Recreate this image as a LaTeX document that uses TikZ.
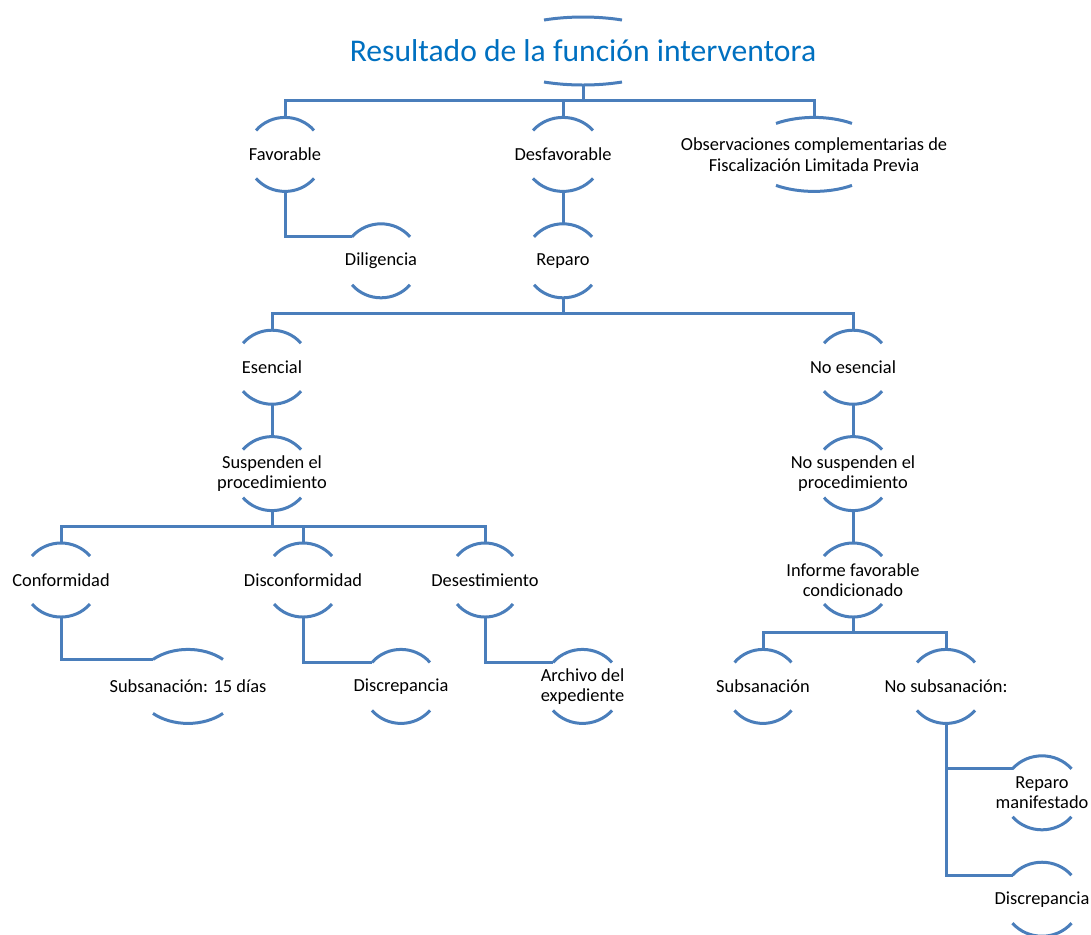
\documentclass[tikz,border=0pt]{standalone}
\usepackage{fontspec}
\setmainfont{Carlito}
\usepackage{tikz}
\usetikzlibrary{positioning}
\usepackage{xcolor}
\definecolor{linkblue}{HTML}{4A7EBB}
\definecolor{titleblue}{HTML}{0070C0}

\begin{document}
\begin{tikzpicture}[
        x=0.5pt, y=-0.5pt,
        node distance=16.2pt,
        item/.style={
            rectangle,
            inner sep=0pt,
            outer sep=0pt,
            minimum height=37pt,
            align=center,
            font=\fontsize{9.2}{10.3}\selectfont
        },
        heading/.style={
            rectangle,
            inner sep=0pt,
            outer sep=0pt,
            minimum height=34pt,
            text=titleblue,
            font=\fontsize{15.8}{18}\selectfont
        },
        branch/.style={
            draw=linkblue,
            line width=1.5pt
        }
    ]

        \useasboundingbox (0,0) rectangle (1091,934);

        \node[heading] (res) at (583,51) {Resultado de la función interventora};

        \node[item, below=of res, xshift=-149pt] (fav) {Favorable};
        \node[item, below=of res, xshift=-10pt] (desf) {Desfavorable};
        \node[item, below=of res, xshift=115.5pt] (obs) {Observaciones complementarias de\\Fiscalización Limitada Previa};
        \node[item, below=of fav, xshift=48pt] (dil) {Diligencia};
        \node[item, below=of desf] (rep) {Reparo};
        \node[item, below=of rep, xshift=-145.5pt] (ese) {Esencial};
        \node[item, below=of rep, xshift=145pt] (noese) {No esencial};
        \node[item, below=of ese] (susp) {Suspenden el\\procedimiento};
        \node[item, below=of noese] (nosusp) {No suspenden el\\procedimiento};
        \node[item, below=of nosusp] (inf) {Informe favorable\\condicionado};
        \node[item, below=of susp, xshift=-105.5pt] (conf) {Conformidad};
        \node[item, below=of susp, xshift=15.5pt] (disc) {Disconformidad};
        \node[item, below=of susp, xshift=106.5pt] (dest) {Desestimiento};
        \node[item, below=of conf, xshift=63.5pt] (sub15) {Subsanación: 15 días};
        \node[item, below=of disc, xshift=49pt] (discr) {Discrepancia};
        \node[item, below=of dest, xshift=48.75pt] (arch) {Archivo del\\expediente};
        \node[item, below=of inf, xshift=-45pt] (subs) {Subsanación};
        \node[item, below=of inf, xshift=46.5pt] (nosub) {No subsanación:};
        \node[item, below=of nosub, xshift=48pt] (repman) {Reparo\\manifestado};
        \node[item, below=of repman] (discr2) {Discrepancia};

        % arcs above and below each text (half width, apex, end height)
        \foreach \n/\w/\a/\e in {res/39/34/31, fav/29/37/24, desf/30/37/24, obs/38/37/31,
                dil/29/37/24, rep/29/37/24, ese/29/37/24, noese/29/37/24, susp/29/37/24,
                nosusp/29/37/24, inf/29/37/24, conf/29/37/24, disc/29/37/24, dest/28/37/24,
                sub15/35/37/27, discr/29/37/24, arch/29.5/37/24, subs/28.5/37/24,
                nosub/29/37/24, repman/29.5/37/24, discr2/29.5/37/24}{
            \pgfmathsetmacro{\t}{asin(\e/\a)}
            \pgfmathsetmacro{\k}{4/3*tan((180-2*\t)/4)}
            \pgfmathsetmacro{\dx}{\k*\w*tan(\t)}
            \pgfmathsetmacro{\dy}{\k*\a*cos(\t)}
            \draw[branch] ([shift={(-\w,-\e)}]\n.center) coordinate (\n-tl)
                .. controls ([shift={({-\w+\dx},{-\e-\dy})}]\n.center)
                and ([shift={({\w-\dx},{-\e-\dy})}]\n.center) .. ([shift={(\w,-\e)}]\n.center);
            \draw[branch] ([shift={(-\w,\e)}]\n.center)
                .. controls ([shift={({-\w+\dx},{\e+\dy})}]\n.center)
                and ([shift={({\w-\dx},{\e+\dy})}]\n.center) .. ([shift={(\w,\e)}]\n.center);
        }

        \draw[branch] (res.south) -- ++(0,15) coordinate (topbar);
        \draw[branch] (fav.north) |- (topbar) -| (obs.north);
        \draw[branch] (desf.north) -- (desf.north |- topbar);
        \draw[branch] (fav.south) |- (dil-tl);
        \draw[branch] (desf.south) -- (rep.north);

        \draw[branch] (rep.south) -- ++(0,15.5) coordinate (repbar);
        \draw[branch] (ese.north) |- (repbar) -| (noese.north);
        \draw[branch] (ese.south) -- (susp.north);
        \draw[branch] (noese.south) -- (nosusp.north);
        \draw[branch] (nosusp.south) -- (inf.north);

        \draw[branch] (susp.south) -- ++(0,15.5) coordinate (suspbar);
        \draw[branch] (conf.north) |- (suspbar) -| (dest.north);
        \draw[branch] (disc.north) -- (disc.north |- suspbar);
        \draw[branch] (conf.south) |- (sub15-tl);
        \draw[branch] (disc.south) |- (discr-tl);
        \draw[branch] (dest.south) |- (arch-tl);

        \draw[branch] (inf.south) -- ++(0,15.5) coordinate (infbar);
        \draw[branch] (subs.north) |- (infbar) -| (nosub.north);
        \draw[branch] (nosub.south) |- (repman-tl);
        \draw[branch] (nosub.south) |- (discr2-tl);

    \end{tikzpicture}
\end{document}
